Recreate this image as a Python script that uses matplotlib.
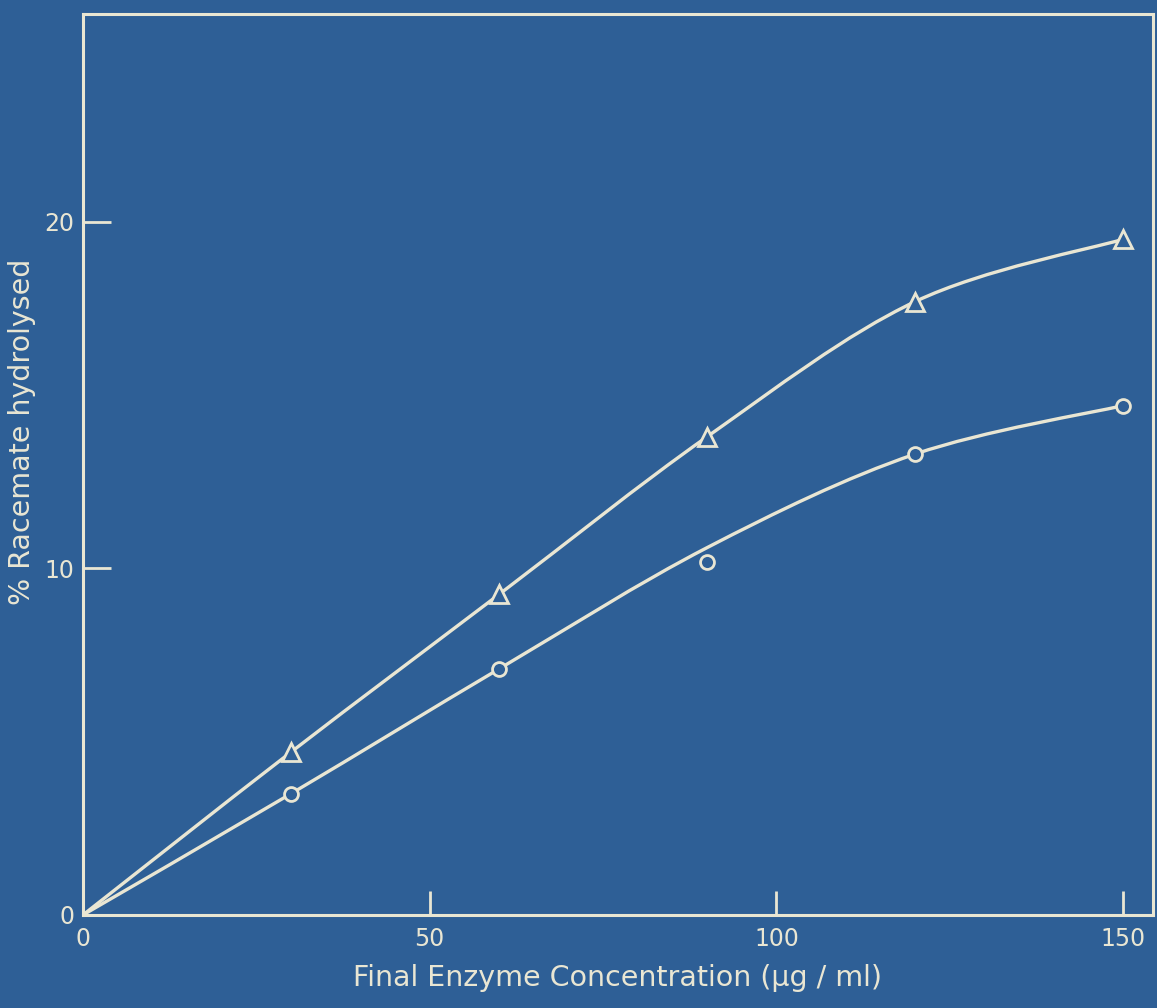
import numpy as np
import matplotlib
matplotlib.use("Agg")
import matplotlib.pyplot as plt
from matplotlib.path import Path
from matplotlib.patches import PathPatch

# ---- data ----
conc = [0, 30, 60, 90, 120, 150]
tri_values = [0, 4.7, 9.25, 13.8, 17.7, 19.5]
circ_values = [0, 3.5, 7.1, 10.2, 13.3, 14.7]
# smooth hand-drawn curves (values of the drawn curve at each concentration)
tri_curve = [0, 4.7, 9.25, 13.8, 17.7, 19.5]
circ_curve = [0, 3.5, 7.1, 10.6, 13.3, 14.7]
xticks = [0, 50, 100, 150]
xticklabels = ["0", "50", "100", "150"]
yticks = [0, 10, 20]
yticklabels = ["0", "10", "20"]

BG = "#2e5f96"
FG = "#e9e6d3"

fig = plt.figure(figsize=(11.57, 10.08), dpi=100)
fig.patch.set_facecolor(BG)
ax = fig.add_axes([0.0717, 0.0923, 0.9965 - 0.0717, 0.9861 - 0.0923])
ax.set_facecolor(BG)
ax.set_xlim(0, 154.3)
ax.set_ylim(0, 26)

for s in ax.spines.values():
    s.set_color(FG)
    s.set_linewidth(2.2)


def smooth_path(xs, ys):
    xs = np.asarray(xs, float)
    ys = np.asarray(ys, float)
    n = len(xs)
    verts = [(xs[0], ys[0])]
    codes = [Path.MOVETO]
    for i in range(n - 1):
        p0 = np.array([xs[max(i - 1, 0)], ys[max(i - 1, 0)]])
        p1 = np.array([xs[i], ys[i]])
        p2 = np.array([xs[i + 1], ys[i + 1]])
        p3 = np.array([xs[min(i + 2, n - 1)], ys[min(i + 2, n - 1)]])
        c1 = p1 + (p2 - p0) / 6.0
        c2 = p2 - (p3 - p1) / 6.0
        verts += [tuple(c1), tuple(c2), tuple(p2)]
        codes += [Path.CURVE4] * 3
    return Path(verts, codes)


for cx, cy in [(conc, tri_curve), (conc, circ_curve)]:
    ax.add_patch(PathPatch(smooth_path(cx, cy), facecolor="none",
                           edgecolor=FG, lw=2.4, zorder=2))

ax.plot(conc[1:], tri_values[1:], linestyle="none", marker="^", ms=13,
        mfc=BG, mec=FG, mew=2.0, zorder=3)
ax.plot(conc[1:], circ_values[1:], linestyle="none", marker="o", ms=10,
        mfc=BG, mec=FG, mew=2.0, zorder=3)

ax.set_xticks(xticks)
ax.set_xticklabels(xticklabels)
ax.set_yticks(yticks)
ax.set_yticklabels(yticklabels)
ax.tick_params(axis="both", direction="in", colors=FG, labelcolor=FG,
               width=2.0, labelsize=17)
ax.tick_params(axis="x", length=17, pad=9)
ax.tick_params(axis="y", length=20, pad=6)
ax.xaxis.get_major_ticks()[0].tick1line.set_visible(False)
ax.yaxis.get_major_ticks()[0].tick1line.set_visible(False)

ax.set_xlabel("Final Enzyme Concentration (\u00b5g / ml)", color=FG,
              fontsize=20.5, labelpad=9)
ax.set_ylabel("% Racemate hydrolysed", color=FG, fontsize=20.5)
ax.yaxis.set_label_coords(-0.044, 0.536)

fig.savefig("out.png", dpi=100, facecolor=BG)
